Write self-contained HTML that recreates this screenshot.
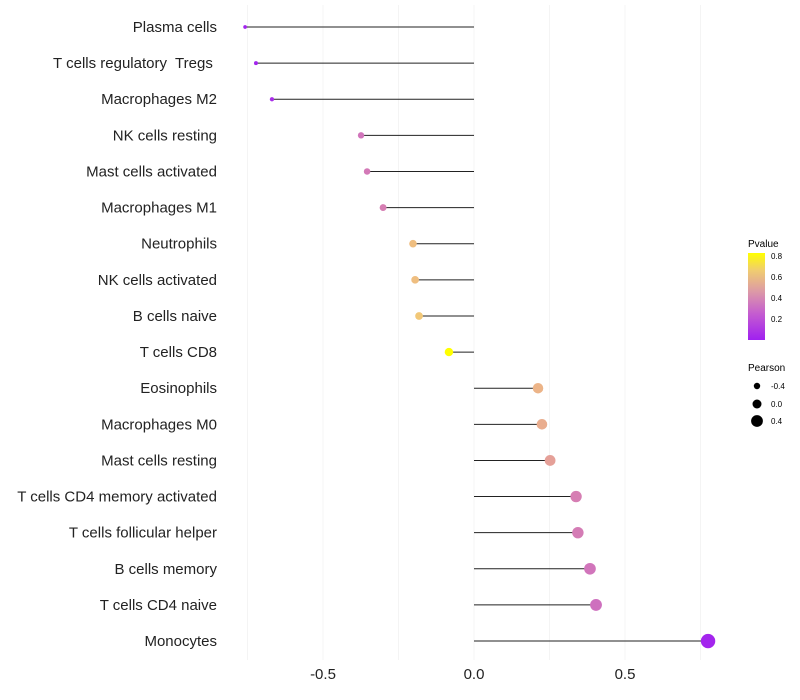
<!DOCTYPE html>
<html><head><meta charset="utf-8"><style>
body{margin:0;background:#fff;font-family:"Liberation Sans",sans-serif;}
svg{display:block}
</style></head><body>
<svg id="chart" width="800" height="700">
<g id="grid"></g>
<g id="marks"></g>
<g id="ylabels"></g>
<g id="xlabels"></g>
<g id="legend">
<defs><linearGradient id="pg" x1="0" y1="1" x2="0" y2="0">
<stop offset="0" stop-color="#A020F0"/><stop offset="0.3" stop-color="#C45CD0"/>
<stop offset="0.55" stop-color="#DC98A8"/><stop offset="0.8" stop-color="#F0CC70"/><stop offset="1" stop-color="#FFFF00"/>
</linearGradient></defs>
<text x="748" y="247" font-size="10">Pvalue</text>
<rect x="748" y="253" width="17" height="87" fill="url(#pg)"/>
<text x="771" y="259" font-size="8">0.8</text>
<text x="771" y="280" font-size="8">0.6</text>
<text x="771" y="301" font-size="8">0.4</text>
<text x="771" y="322" font-size="8">0.2</text>
<text x="748" y="371" font-size="10">Pearson</text>
<circle cx="757" cy="386" r="3.2" fill="#000"/>
<circle cx="757" cy="404" r="4.5" fill="#000"/>
<circle cx="757" cy="421" r="5.9" fill="#000"/>
<text x="771" y="389" font-size="8">-0.4</text>
<text x="771" y="407" font-size="8">0.0</text>
<text x="771" y="424" font-size="8">0.4</text>
</g>
</svg>
<script>
const cells=["Plasma cells","T cells regulatory  Tregs\u00a0","Macrophages M2","NK cells resting","Mast cells activated","Macrophages M1","Neutrophils","NK cells activated","B cells naive","T cells CD8","Eosinophils","Macrophages M0","Mast cells resting","T cells CD4 memory activated","T cells follicular helper","B cells memory","T cells CD4 naive","Monocytes"];
const pearson=[-0.758,-0.722,-0.669,-0.374,-0.354,-0.301,-0.202,-0.195,-0.182,-0.083,0.212,0.225,0.252,0.338,0.344,0.384,0.404,0.775];
const pvalue=[0.01,0.02,0.05,0.32,0.34,0.36,0.62,0.62,0.66,0.83,0.58,0.55,0.5,0.36,0.35,0.32,0.3,0.02];
const xTicks=[-0.5,0,0.5];
const xGrid=[-0.75,-0.5,-0.25,0,0.25,0.5,0.75];
const NS="http://www.w3.org/2000/svg";
const xs=v=>474+v*302;
const ys=i=>27+i*36.12;
const rs=v=>4.5+3.5*v;
function lerp(a,b,t){return a+(b-a)*t;}
const stops=[[0,[160,32,240]],[0.25,[200,100,200]],[0.46,[226,150,160]],[0.66,[242,200,120]],[0.83,[255,255,0]]];
function col(p){p=Math.max(0,Math.min(0.83,p));for(let i=1;i<stops.length;i++){if(p<=stops[i][0]){const t=(p-stops[i-1][0])/(stops[i][0]-stops[i-1][0]);const a=stops[i-1][1],b=stops[i][1];return `rgb(${Math.round(lerp(a[0],b[0],t))},${Math.round(lerp(a[1],b[1],t))},${Math.round(lerp(a[2],b[2],t))})`;}}return "rgb(255,255,0)";}
function mk(tag,attrs,parent){const e=document.createElementNS(NS,tag);for(const k in attrs)e.setAttribute(k,attrs[k]);parent.appendChild(e);return e;}
const grid=document.getElementById('grid'),marks=document.getElementById('marks'),yl=document.getElementById('ylabels'),xl=document.getElementById('xlabels');
xGrid.forEach(g=>{const l=mk('line',{x1:xs(g),x2:xs(g),y1:5,y2:660,stroke:'#F4F4F4','stroke-width':1},grid);

});
cells.forEach((c,i)=>{const y=ys(i);
const ln=mk('line',{x1:xs(0),x2:xs(pearson[i]),y1:y,y2:y,stroke:'#222','stroke-width':1},marks);


const d=mk('circle',{cx:xs(pearson[i]),cy:y,r:rs(pearson[i]),fill:col(pvalue[i])},marks);


const t=mk('text',{x:217,y:y+5,'text-anchor':'end','font-size':15,fill:'#222','xml:space':'preserve'},yl);t.textContent=c;
t.setAttribute('style','white-space:pre');

});
xTicks.forEach(v=>{const t=mk('text',{x:xs(v),y:679,'text-anchor':'middle','font-size':15,fill:'#222'},xl);t.textContent=v===0?'0.0':v.toFixed(1);

});
</script>
</body></html>
